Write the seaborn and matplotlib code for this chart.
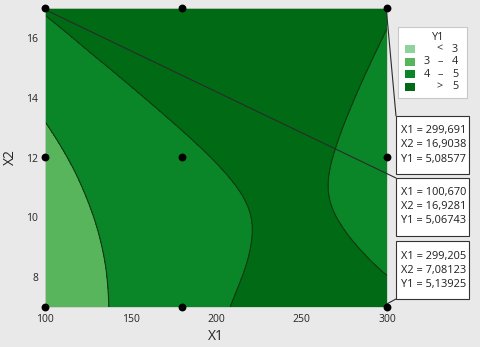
import numpy as np
import matplotlib
matplotlib.use("Agg")
import matplotlib.pyplot as plt
import matplotlib.tri as mtri
from matplotlib.patches import Rectangle
import seaborn as sns

# response surface (rows: X2 = 7..17, cols: X1 = 100..300)
x1_grid = [100, 120, 140, 160, 180, 200, 220, 240, 260, 280, 300]
x2_grid = [7, 8, 9, 10, 11, 12, 13, 14, 15, 16, 17]
y1_grid = [
    [3.163, 3.638, 4.051, 4.403, 4.694, 4.923, 5.091, 5.197, 5.242, 5.225, 5.147],
    [3.221, 3.676, 4.069, 4.402, 4.673, 4.882, 5.030, 5.116, 5.141, 5.105, 5.007],
    [3.308, 3.743, 4.117, 4.430, 4.681, 4.871, 4.999, 5.066, 5.071, 5.015, 4.897],
    [3.425, 3.841, 4.195, 4.488, 4.719, 4.889, 4.998, 5.045, 5.031, 4.955, 4.817],
    [3.572, 3.968, 4.303, 4.576, 4.787, 4.938, 5.027, 5.054, 5.020, 4.924, 4.767],
    [3.749, 4.125, 4.440, 4.694, 4.885, 5.016, 5.085, 5.093, 5.039, 4.924, 4.747],
    [3.956, 4.312, 4.607, 4.841, 5.013, 5.124, 5.173, 5.161, 5.088, 4.953, 4.757],
    [4.192, 4.529, 4.805, 5.018, 5.171, 5.262, 5.292, 5.260, 5.167, 5.012, 4.796],
    [4.459, 4.776, 5.031, 5.226, 5.359, 5.430, 5.440, 5.388, 5.275, 5.101, 4.865],
    [4.755, 5.052, 5.288, 5.463, 5.576, 5.628, 5.618, 5.546, 5.414, 5.220, 4.964],
    [5.081, 5.359, 5.575, 5.730, 5.823, 5.855, 5.825, 5.735, 5.582, 5.368, 5.093],
]

levels = [0, 3, 4, 5, 10]
level_low = ["", "3", "4", ""]
level_sep = ["<", "–", "–", ">"]
level_high = ["3", "4", "5", "5"]
colors = ["#8ed39b", "#58b55c", "#0a8628", "#006b14"]

design_x1 = [100, 180, 300, 100, 180, 300, 100, 180, 300]
design_x2 = [17, 17, 17, 12, 12, 12, 7, 7, 7]

flag_x1 = [299.691, 100.670, 299.205]
flag_x2 = [16.9038, 16.9281, 7.08123]
flag_y1 = [5.08577, 5.06743, 5.13925]

sns.set_theme(style="white")
plt.rcParams["font.family"] = ["Open Sans", "DejaVu Sans"]

W, H = 480, 347
bg = "#e9e9e9"
txt = "#262626"
fig = plt.figure(figsize=(W / 100, H / 100), dpi=100, facecolor=bg)
ax = fig.add_axes([45 / W, 1 - 307 / H, 342 / W, 299 / H])

def fx(px):
    return px / W

def fy(py):
    return 1 - py / H

# smooth the grid with matplotlib's cubic refiner (on square cells, then back to X1 units)
X, Y = np.meshgrid(x1_grid, x2_grid)
Z = np.array(y1_grid)
step = x1_grid[1] - x1_grid[0]
triang = mtri.Triangulation(X.ravel() / step, Y.ravel())
tri_sq, z_fine = mtri.UniformTriRefiner(triang).refine_field(Z.ravel(), subdiv=4)
tri_fine = mtri.Triangulation(tri_sq.x * step, tri_sq.y, tri_sq.triangles)
ax.tricontourf(tri_fine, z_fine, levels=levels, colors=colors)
ax.tricontour(tri_fine, z_fine, levels=levels[1:-1], colors="#123a12", linewidths=0.8)

sns.scatterplot(x=design_x1, y=design_x2, ax=ax, color="black", s=32,
                edgecolor="black", linewidth=0, clip_on=False, zorder=6)

ax.set_xlim(100, 300)
ax.set_ylim(7, 17)
ax.set_xticks([100, 150, 200, 250, 300])
ax.set_yticks([8, 10, 12, 14, 16])
ax.tick_params(axis="both", labelsize=7.5, colors="#bbbbbb", labelcolor=txt,
               length=3, width=0.6, direction="out", pad=2)
ax.set_xlabel("X1", fontsize=10, color=txt, labelpad=3)
ax.set_ylabel("X2", fontsize=10, color=txt, labelpad=6)
for s in ax.spines.values():
    s.set_color("#cccccc")
    s.set_linewidth(0.6)

# legend box
fig.add_artist(Rectangle((fx(398), fy(98)), fx(69), 71 / H, transform=fig.transFigure,
                         facecolor="white", edgecolor="#c8c8c8", linewidth=0.8))
fig.text(fx(438), fy(38), "Y1", fontsize=7.8, ha="center", va="center", color=txt)
for i, c in enumerate(colors):
    yc = 49 + i * 12.6
    fig.add_artist(Rectangle((fx(405), fy(yc + 4)), fx(10), 8 / H, transform=fig.transFigure,
                             facecolor=c, edgecolor="none"))
    for xp, t in [(427, level_low[i]), (440, level_sep[i]), (455, level_high[i])]:
        fig.text(fx(xp), fy(yc), t, fontsize=7.8, ha="center", va="center", color=txt)

# flag boxes with leader lines
box_tops = [116, 178, 241]
corners = [(396, 116), (396, 178), (396, 299)]
for i in range(3):
    top = box_tops[i]
    ax.annotate("", xy=(flag_x1[i], flag_x2[i]), xycoords="data",
                xytext=(fx(corners[i][0]), fy(corners[i][1])), textcoords="figure fraction",
                arrowprops=dict(arrowstyle="-", color="#2b2b2b", lw=0.8, shrinkA=0, shrinkB=0),
                annotation_clip=False, zorder=4)
    fig.add_artist(Rectangle((fx(396), fy(top + 58)), fx(73), 58 / H, transform=fig.transFigure,
                             facecolor="white", edgecolor="#333333", linewidth=0.8, zorder=5))
    lines = [
        "X1 = " + f"{flag_x1[i]:.3f}".replace(".", ","),
        "X2 = " + f"{flag_x2[i]:.6g}".replace(".", ","),
        "Y1 = " + f"{flag_y1[i]:.5f}".replace(".", ","),
    ]
    for j, t in enumerate(lines):
        fig.text(fx(401), fy(top + 15 + j * 14), t, fontsize=7.9, ha="left", va="center",
                 color="#1e1e1e", zorder=6)

fig.savefig("out.png", dpi=100, facecolor=bg)
